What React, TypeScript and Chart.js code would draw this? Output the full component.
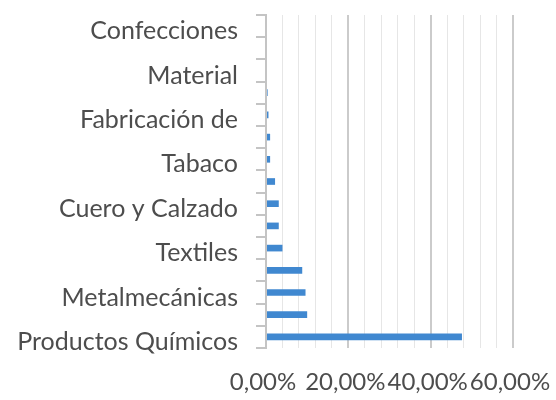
import React, { useEffect, useRef } from "react";
import { Chart, registerables } from "chart.js";

Chart.register(...registerables);

const categories = [
  "Confecciones",
  "Hilados",
  "Material",
  "Papel",
  "Fabricación de",
  "Plásticos",
  "Tabaco",
  "Bebidas",
  "Cuero y Calzado",
  "Madera",
  "Textiles",
  "Alimentos",
  "Metalmecánicas",
  "Minerales",
  "Productos Químicos",
];
const values = [0, 0, 0, 0.4, 0.6, 1.0, 1.0, 2.2, 3.1, 3.1, 4.0, 8.8, 9.6, 10.0, 47.6];
const xTickLabels = ["0,00%", "20,00%", "40,00%", "60,00%"];

const FONT = "Lato";

export default function App() {
  const ref = useRef<HTMLCanvasElement | null>(null);
  useEffect(() => {
    document.body.style.margin = "0";
    if (!ref.current) return;
    const chart = new Chart(ref.current, {
      type: "bar",
      data: {
        labels: categories,
        datasets: [
          {
            data: values,
            backgroundColor: "#4088d0",
            categoryPercentage: 1,
            barPercentage: 0.3,
          },
        ],
      },
      options: {
        indexAxis: "y",
        animation: false,
        responsive: false,
        layout: { padding: { top: 15, right: 0, left: 0, bottom: 0 } },
        plugins: { legend: { display: false }, tooltip: { enabled: false } },
        scales: {
          x: {
            min: 0,
            max: 60,
            afterFit: (s: any) => {
              s.height = 52;
              s.paddingRight = 43;
              s.paddingLeft = 0;
            },
            ticks: {
              stepSize: 4,
              autoSkip: false,
              maxRotation: 0,
              padding: 20,
              labelOffset: -3,
              color: "#4d4d4d",
              font: { family: FONT, size: 24 },
              callback: (v: any) => {
                const n = Number(v);
                return n % 20 === 0 ? xTickLabels[n / 20] : "";
              },
            },
            grid: {
              drawTicks: false,
              color: (ctx: any) =>
                ctx.tick && ctx.tick.value % 20 === 0 ? "#cbcbcb" : "#e6e6e6",
              lineWidth: (ctx: any) => (ctx.tick && ctx.tick.value % 20 === 0 ? 2 : 1),
            },
            border: { display: false },
          },
          y: {
            afterFit: (s: any) => {
              s.width = 266;
              s.paddingTop = 0;
              s.paddingBottom = 0;
            },
            ticks: {
              autoSkip: false,
              padding: 18,
              labelOffset: 5,
              color: "#4d4d4d",
              font: { family: FONT, size: 25 },
              callback: (_v: any, i: number) => (i % 2 === 0 ? categories[i] : ""),
            },
            grid: {
              offset: true,
              drawOnChartArea: false,
              drawTicks: true,
              tickLength: 10,
              color: "#c4c4c4",
              lineWidth: 2,
            },
            border: { display: true, color: "#c4c4c4", width: 2 },
          },
        },
      },
    });
    return () => chart.destroy();
  }, []);
  return (
    <div style={{ width: 556, height: 400, background: "#fff" }}>
      <canvas ref={ref} width={556} height={400} />
    </div>
  );
}
